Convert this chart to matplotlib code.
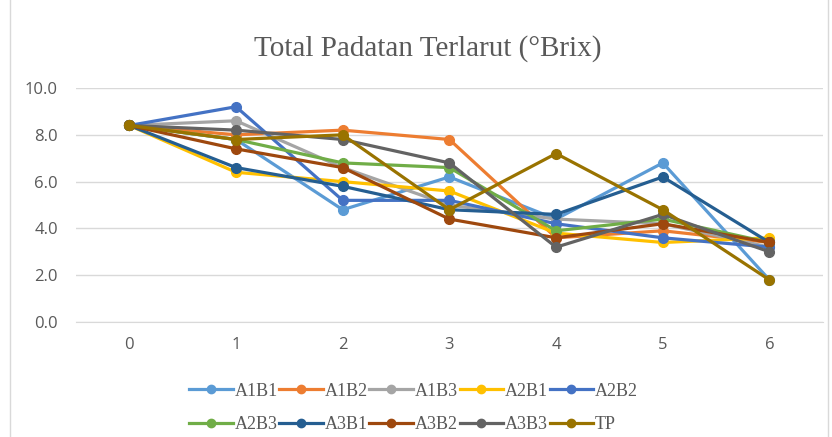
import matplotlib
matplotlib.use("Agg")
from matplotlib import pyplot as plt
from matplotlib.patches import Rectangle

days = [0, 1, 2, 3, 4, 5, 6]

A1B1 = [8.4, 7.8, 4.8, 6.2, 4.4, 6.8, 1.8]
A1B2 = [8.4, 8.0, 8.2, 7.8, 3.6, 3.9, 3.4]
A1B3 = [8.4, 8.6, 6.6, 5.0, 4.4, 4.2, 3.2]
A2B1 = [8.4, 6.4, 6.0, 5.6, 3.8, 3.4, 3.6]
A2B2 = [8.4, 9.2, 5.2, 5.2, 4.2, 3.6, 3.2]
A2B3 = [8.4, 7.8, 6.8, 6.6, 3.9, 4.4, 3.4]
A3B1 = [8.4, 6.6, 5.8, 4.8, 4.6, 6.2, 3.4]
A3B2 = [8.4, 7.4, 6.6, 4.4, 3.6, 4.2, 3.4]
A3B3 = [8.4, 8.2, 7.8, 6.8, 3.2, 4.6, 3.0]
TP = [8.4, 7.8, 8.0, 4.8, 7.2, 4.8, 1.8]

names = ["A1B1", "A1B2", "A1B3", "A2B1", "A2B2",
         "A2B3", "A3B1", "A3B2", "A3B3", "TP"]
series = [A1B1, A1B2, A1B3, A2B1, A2B2, A2B3, A3B1, A3B2, A3B3, TP]
colors = ["#5B9BD5", "#ED7D31", "#A5A5A5", "#FFC000", "#4472C4",
          "#70AD47", "#255E91", "#9E480E", "#636363", "#997300"]

fig = plt.figure(figsize=(8.32, 4.37), dpi=100)
ax = fig.add_axes([0.0913, 0.263, 0.8977, 0.5356])

lines = []
for name, vals, c in zip(names, series, colors):
    ln, = ax.plot(days, vals, color=c, lw=2.3, marker="o", ms=7,
                  label=name, solid_joinstyle="round")
    lines.append(ln)

ax.set_xlim(-0.5, 6.5)
ax.set_ylim(0, 10)
ax.set_yticks([0, 2, 4, 6, 8, 10])
ax.set_yticklabels([f"{v:.1f}" for v in [0, 2, 4, 6, 8, 10]])
ax.set_xticks(days)
ax.grid(axis="y", color="#D9D9D9", lw=1)
ax.set_axisbelow(True)
for s in ["top", "right", "left"]:
    ax.spines[s].set_visible(False)
ax.spines["bottom"].set_color("#D9D9D9")
ax.tick_params(length=0, labelsize=12, labelcolor="#595959")
ax.tick_params(axis="y", pad=13)
ax.tick_params(axis="x", pad=11)
for lab in ax.get_xticklabels() + ax.get_yticklabels():
    lab.set_family("Open Sans")

fig.text(0.514, 0.89, "Total Padatan Terlarut (°Brix)", ha="center", va="center",
         fontsize=21, color="#595959", family="Liberation Serif")

# legend fills columns first, so reorder to get rows like the original
order = [0, 5, 1, 6, 2, 7, 3, 8, 4, 9]
leg = fig.legend([lines[i] for i in order], [names[i] for i in order],
                 ncol=5, loc="center", bbox_to_anchor=(0.497, 0.067),
                 frameon=False, handlelength=2.4, handletextpad=0.1,
                 columnspacing=0.1, labelspacing=0.9,
                 prop={"family": "Liberation Serif", "size": 13})
for t in leg.get_texts():
    t.set_color("#595959")
for h in leg.legend_handles:
    h.set_markersize(6)

fig.patches.append(Rectangle((0.012, -0.01), 0.983, 1.02, transform=fig.transFigure,
                             fill=False, edgecolor="#D9D9D9", lw=1))

fig.savefig("out.png", dpi=100)
